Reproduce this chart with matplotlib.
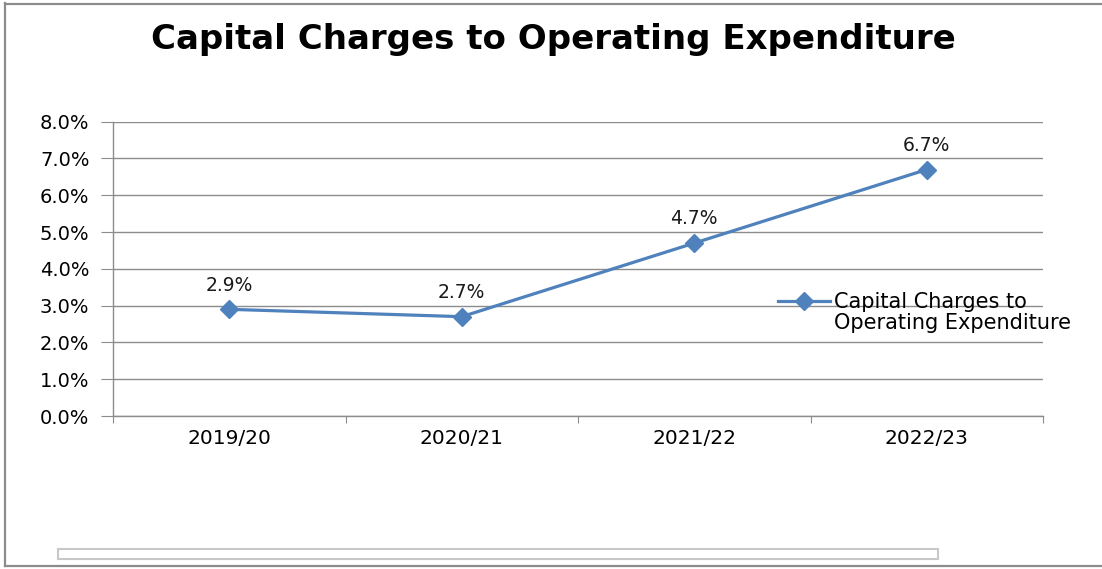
import matplotlib
matplotlib.use("Agg")
import matplotlib.pyplot as plt
from matplotlib.patches import Rectangle
from matplotlib.ticker import FixedLocator, PercentFormatter
import numpy as np

years = ["2019/20", "2020/21", "2021/22", "2022/23"]
ratio_pct = [2.9, 2.7, 4.7, 6.7]
series_name = "Capital Charges to\nOperating Expenditure"
title = "Capital Charges to Operating Expenditure"

W, H = 1102, 569
fig = plt.figure(figsize=(W / 100, H / 100), dpi=100)
fig.patch.set_facecolor("white")

def fx(px):
    return px / W

def fy(py):
    return 1 - py / H

# outer chart frame (open on the right)
frame_col = "#8c8c8c"
fig.add_artist(plt.Line2D([fx(5), fx(5)], [fy(3), fy(566)], color=frame_col, lw=1.6))
fig.add_artist(plt.Line2D([fx(5), 1.0], [fy(3.5), fy(3.5)], color=frame_col, lw=1.6))
fig.add_artist(plt.Line2D([fx(5), 1.0], [fy(566), fy(566)], color=frame_col, lw=1.6))

# empty box near the bottom
fig.add_artist(Rectangle((fx(58), fy(559)), fx(938) - fx(58), fy(549) - fy(559),
                         transform=fig.transFigure, facecolor="white",
                         edgecolor="#c8c8c8", lw=1.5))

left, right, top, bottom = 113, 1043, 121.7, 416
ax = fig.add_axes([fx(left), fy(bottom), fx(right) - fx(left), fy(top) - fy(bottom)])

x = np.arange(len(years))
line_col = "#4f81bd"
ax.plot(x, ratio_pct, color=line_col, lw=2.3, marker="D", markersize=9,
        label=series_name, zorder=3)

for xi, v in zip(x, ratio_pct):
    ax.annotate(f"{v:.1f}%", (xi, v), xytext=(0, 17.5), textcoords="offset points",
                ha="center", va="center", fontsize=13.5, family="DejaVu Sans",
                color="#1a1a1a")

ax.set_xlim(-0.5, len(years) - 0.5)
ax.set_ylim(0, 8)
ax.yaxis.set_major_locator(FixedLocator(np.arange(0, 9, 1)))
ax.yaxis.set_major_formatter(PercentFormatter(decimals=1))
ax.grid(axis="y", color="#8c8c8c", lw=1.0)
ax.set_axisbelow(True)

ax.set_xticks(np.arange(-0.5, len(years), 1.0))
ax.set_xticklabels([])
ax.set_xticks(x, minor=True)
ax.set_xticklabels(years, minor=True, fontsize=14.5, family="DejaVu Sans")
ax.tick_params(axis="x", which="major", length=5, color="#8c8c8c", direction="out")
ax.tick_params(axis="x", which="minor", length=0, pad=9)
ax.tick_params(axis="y", length=9, color="#8c8c8c", labelsize=14, pad=8)
for lab in ax.get_yticklabels():
    lab.set_family("DejaVu Sans")

for s in ("top", "right"):
    ax.spines[s].set_visible(False)
for s in ("left", "bottom"):
    ax.spines[s].set_color("#8c8c8c")
    ax.spines[s].set_linewidth(1.0)

leg = ax.legend(loc="upper left", bbox_to_anchor=(fx(778), fy(292.5)),
                bbox_transform=fig.transFigure, frameon=False, fontsize=15,
                handlelength=2.5, handleheight=0.1, handletextpad=0.2,
                borderpad=0, borderaxespad=0)
for row in leg._legend_handle_box.get_children():
    row.align = "top"
for t in leg.get_texts():
    t.set_family("DejaVu Sans")
    t.set_linespacing(1.06)
# raise the legend key so it sits level with the first text line
for key in leg.get_lines():
    key.set_ydata(np.asarray(key.get_ydata()) + 10.8)

fig.text(fx(553), fy(40), title, ha="center", va="center", fontsize=24.5,
         fontweight="bold", family="DejaVu Sans", color="black")

fig.savefig("out.png", dpi=100, facecolor="white")
